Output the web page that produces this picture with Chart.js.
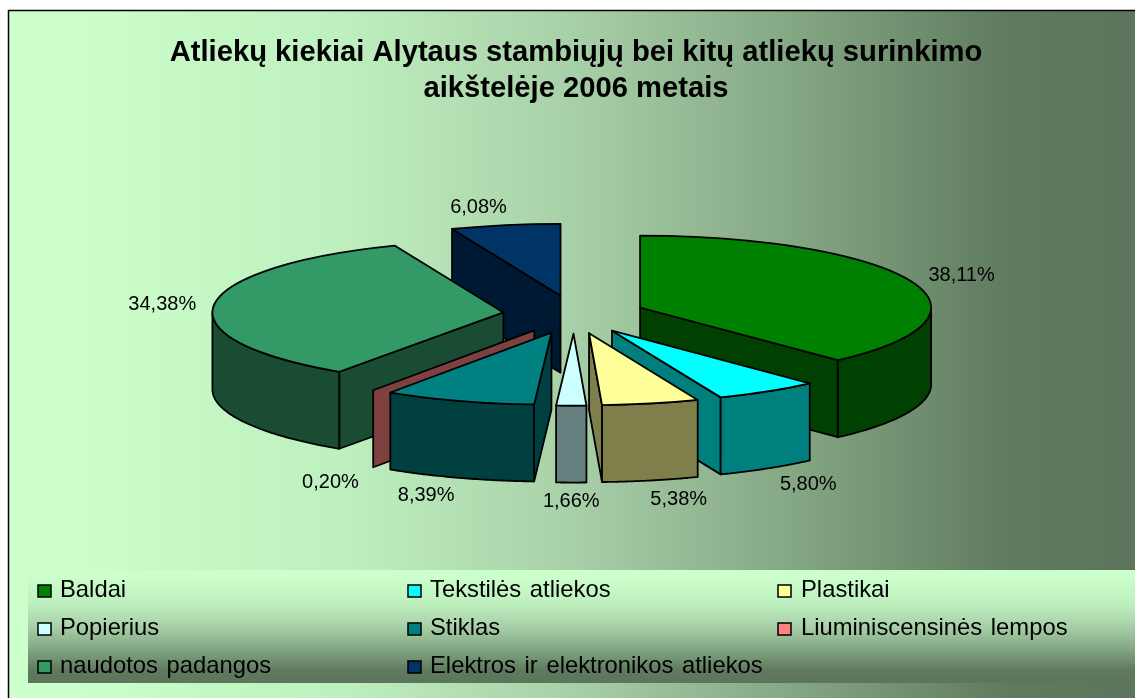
<!DOCTYPE html>
<html><head><meta charset="utf-8">
<script src="https://cdn.jsdelivr.net/npm/chart.js@4/dist/chart.umd.min.js"></script>
<style>html,body{margin:0;padding:0;background:#fff;overflow:hidden}canvas{display:block}</style>
</head><body><canvas id="c" width="1135" height="698"></canvas>
<script>
const titleLines = ['Atliekų kiekiai Alytaus stambiųjų bei kitų atliekų surinkimo', 'aikštelėje 2006 metais'];
const categories = ['Baldai','Tekstilės atliekos','Plastikai','Popierius','Stiklas','Liuminiscensinės lempos','naudotos padangos','Elektros ir elektronikos atliekos'];
const shares = [38.11,5.80,5.38,1.66,8.39,0.20,34.38,6.08];
const colors = ['#008000','#00FFFF','#FFFF99','#CCFFFF','#008080','#FF8080','#339966','#003366'];

const FONT = '"Liberation Sans", Arial, sans-serif';
const view = {cx:574, cy:314.5, squash:0.247, explodeSquash:0.27, depth:77, explode:71, radius:291};
const halve = h => { const n=parseInt(h.slice(1),16); return `rgb(${(n>>16)>>1},${((n>>8)&255)>>1},${(n&255)>>1})`; };
const ramp = [[0,'#CCFFCC'],[0.06,'#CCFFCC'],[0.3,'#BEEFBE'],[0.5,'#A8D0A8'],[0.7,'#83A683'],[0.89,'#5F7A5F'],[1,'#5C755C']];
const addRamp = g => { ramp.forEach(s=>g.addColorStop(s[0],s[1])); return g; };

const backdrop = {
  id:'backdrop',
  beforeDraw(chart){
    const c=chart.ctx; c.save();
    c.fillStyle=addRamp(c.createLinearGradient(8,0,1135,0)); c.fillRect(8,10,1127,688);
    c.strokeStyle='#000'; c.lineWidth=1.5;
    c.beginPath(); c.moveTo(8.5,698); c.lineTo(8.5,10.5); c.lineTo(1135,10.5); c.stroke();
    c.restore();
  }
};

function geom(arc){
  const mid=(arc.startAngle+arc.endAngle)/2;
  return {mid, ox:view.cx+Math.cos(mid)*view.explode, oy:view.cy+Math.sin(mid)*view.explode*view.explodeSquash};
}
const drawSlices = {
  id:'drawSlices',
  beforeDatasetDraw(chart,args){
    const c=chart.ctx, arcs=chart.getDatasetMeta(args.index).data;
    const R=view.radius, S=view.squash, D=view.depth;
    const order=arcs.map((a,i)=>i).sort((p,q)=>Math.sin((arcs[p].startAngle+arcs[p].endAngle)/2)-Math.sin((arcs[q].startAngle+arcs[q].endAngle)/2));
    c.save(); c.lineJoin='round'; c.strokeStyle='#000'; c.lineWidth=1.8;
    for(const i of order){
      const a=arcs[i], {ox,oy}=geom(a), s=a.startAngle, e=a.endAngle;
      const sliver=(e-s)<0.02;
      const px=t=>ox+Math.cos(t)*R, py=t=>oy+Math.sin(t)*R*S;
      c.fillStyle=halve(colors[i]);
      const quad=t=>{ c.beginPath(); c.moveTo(ox,oy); c.lineTo(px(t),py(t)); c.lineTo(px(t),py(t)+D); c.lineTo(ox,oy+D); c.closePath(); c.fill(); c.stroke(); };
      if(s>Math.PI/2) quad(s);                    // start edge faces the viewer
      if(e>-Math.PI/2 && e<Math.PI/2) quad(e);    // end edge faces the viewer
      const lo=Math.max(s,0), hi=Math.min(e,Math.PI);
      if(hi>lo && !sliver){
        c.beginPath();
        const N=48;
        for(let k=0;k<=N;k++){const t=lo+(hi-lo)*k/N; k?c.lineTo(px(t),py(t)):c.moveTo(px(t),py(t));}
        for(let k=N;k>=0;k--){const t=lo+(hi-lo)*k/N; c.lineTo(px(t),py(t)+D);}
        c.closePath(); c.fill(); c.stroke();
      }
      if(sliver) continue;
      c.save();
      c.translate(ox,oy); c.scale(1,S); c.translate(-a.x,-a.y);
      a.draw(c);
      c.beginPath(); c.moveTo(a.x,a.y); c.arc(a.x,a.y,R,s,e); c.closePath();
      c.restore();
      c.stroke();
    }
    c.restore();
    return false;
  },
  afterDatasetsDraw(chart){
    const c=chart.ctx, arcs=chart.getDatasetMeta(0).data;
    c.save(); c.fillStyle='#000'; c.font='20px '+FONT; c.textAlign='center'; c.textBaseline='middle';
    arcs.forEach((a,i)=>{
      const {ox,oy,mid}=geom(a), ca=Math.cos(mid), sa=Math.sin(mid);
      const push=Math.abs(ca)<0.05?0:52*Math.sign(ca)*Math.pow(Math.abs(ca),0.4);
      const x=ox+ca*view.radius+push;
      const y=oy+sa*view.radius*view.squash+(sa>0?view.depth-1:2)+20*sa;
      c.fillText(shares[i].toFixed(2).replace('.',',')+'%',x,y);
    });
    c.restore();
  }
};
const legendBand = {
  id:'legendBand',
  afterDraw(chart){
    const c=chart.ctx; c.save();
    c.fillStyle=addRamp(c.createLinearGradient(0,570,0,683)); c.fillRect(28,570,1107,113);
    c.font='23.8px '+FONT; c.wordSpacing='2px'; c.textBaseline='alphabetic'; c.textAlign='left';
    const cols=[38,408,778], rows=[597,635,673];
    categories.forEach((t,i)=>{
      const x=cols[i%3], y=rows[Math.floor(i/3)];
      c.fillStyle=colors[i]; c.strokeStyle='#000'; c.lineWidth=1.5;
      c.fillRect(x,y-12,13,12); c.strokeRect(x,y-12,13,12);
      c.fillStyle='#000'; c.fillText(t,x+22+(i%3===2?1:0),y);
    });
    c.restore();
  }
};
new Chart(document.getElementById('c'),{
  type:'pie',
  data:{labels:categories,datasets:[{data:shares,backgroundColor:colors,borderWidth:0,offset:0}]},
  options:{
    responsive:false,animation:false,
    radius:view.radius,
    layout:{padding:{left:17,top:35}},
    plugins:{
      legend:{display:false},tooltip:{enabled:false},
      title:{display:true,text:titleLines,color:'#000',font:{family:FONT,size:29.2,weight:'bold',lineHeight:1.23},padding:0}
    }
  },
  plugins:[backdrop,drawSlices,legendBand]
});
</script></body></html>
